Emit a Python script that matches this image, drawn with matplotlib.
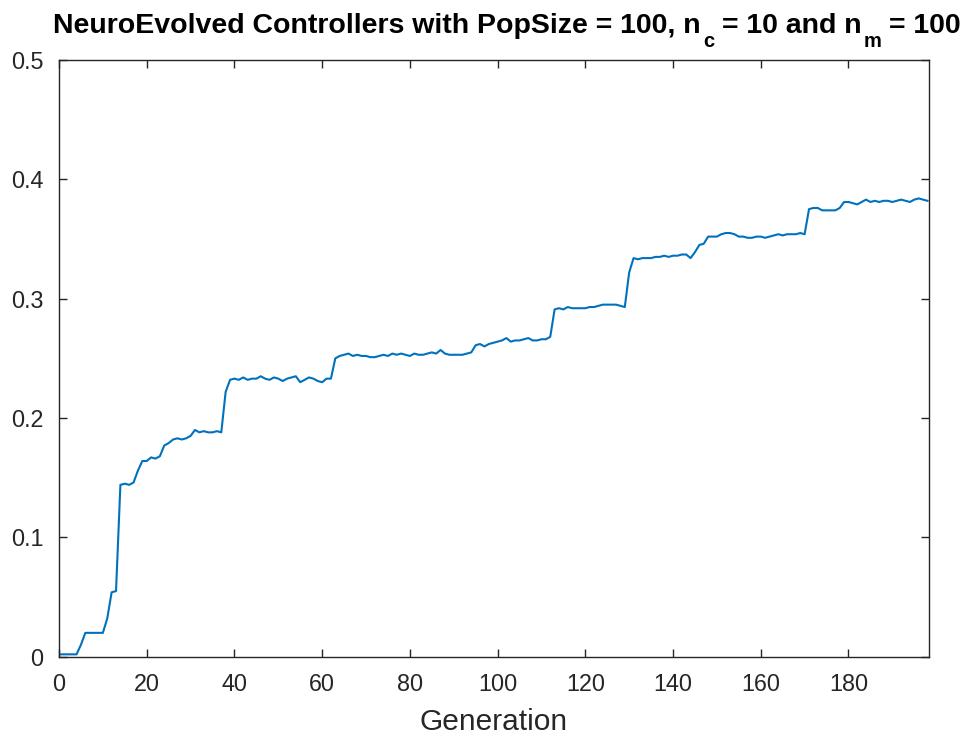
import numpy as np
import matplotlib
matplotlib.use('Agg')
import matplotlib.pyplot as plt

plt.rcParams['font.family'] = ['Liberation Sans', 'DejaVu Sans']

# Best fitness per generation
fitness = [
    0.002, 0.002, 0.002, 0.002, 0.002, 0.010, 0.020, 0.020, 0.020, 0.020,
    0.020, 0.032, 0.054, 0.055, 0.144, 0.145, 0.144, 0.146, 0.156, 0.164,
    0.164, 0.167, 0.166, 0.168, 0.177, 0.179, 0.182, 0.183, 0.182, 0.183,
    0.185, 0.190, 0.188, 0.189, 0.188, 0.188, 0.189, 0.188, 0.222, 0.232,
    0.233, 0.232, 0.234, 0.232, 0.233, 0.233, 0.235, 0.233, 0.232, 0.234,
    0.233, 0.231, 0.233, 0.234, 0.235, 0.230, 0.232, 0.234, 0.233, 0.231,
    0.230, 0.233, 0.233, 0.250, 0.252, 0.253, 0.254, 0.252, 0.253, 0.252,
    0.252, 0.251, 0.251, 0.252, 0.253, 0.252, 0.254, 0.253, 0.254, 0.253,
    0.252, 0.254, 0.253, 0.253, 0.254, 0.255, 0.254, 0.257, 0.254, 0.253,
    0.253, 0.253, 0.253, 0.254, 0.255, 0.261, 0.262, 0.260, 0.262, 0.263,
    0.264, 0.265, 0.267, 0.264, 0.265, 0.265, 0.266, 0.267, 0.265, 0.265,
    0.266, 0.266, 0.268, 0.291, 0.292, 0.291, 0.293, 0.292, 0.292, 0.292,
    0.292, 0.293, 0.293, 0.294, 0.295, 0.295, 0.295, 0.295, 0.294, 0.293,
    0.322, 0.334, 0.333, 0.334, 0.334, 0.334, 0.335, 0.335, 0.336, 0.335,
    0.336, 0.336, 0.337, 0.337, 0.334, 0.339, 0.345, 0.346, 0.352, 0.352,
    0.352, 0.354, 0.355, 0.355, 0.354, 0.352, 0.352, 0.351, 0.351, 0.352,
    0.352, 0.351, 0.352, 0.353, 0.354, 0.353, 0.354, 0.354, 0.354, 0.355,
    0.354, 0.375, 0.376, 0.376, 0.374, 0.374, 0.374, 0.374, 0.376, 0.381,
    0.381, 0.380, 0.379, 0.381, 0.383, 0.381, 0.382, 0.381, 0.382, 0.382,
    0.381, 0.382, 0.383, 0.382, 0.381, 0.383, 0.384, 0.383, 0.382,
]
generations = np.arange(len(fitness))

xticks = [0, 20, 40, 60, 80, 100, 120, 140, 160, 180]
yticks = [0, 0.1, 0.2, 0.3, 0.4, 0.5]
ytick_labels = ['0', '0.1', '0.2', '0.3', '0.4', '0.5']

# title pieces: (text, is_subscript, space_before)
title_parts = [
    ('NeuroEvolved Controllers with PopSize = 100, n', False, False),
    ('c', True, False),
    ('= 10 and n', False, True),
    ('m', True, False),
    ('= 100', False, True),
]

axis_color = '#262626'

fig = plt.figure(figsize=(9.8, 7.44), dpi=100)
ax = fig.add_axes([0.0602, 0.1173, 0.8875, 0.8021])
ax.plot(generations, fitness, color='#0072BD', lw=1.5)

ax.set_xlim(0, 198.3)
ax.set_ylim(0, 0.5)
ax.set_xticks(xticks)
ax.set_yticks(yticks)
ax.set_yticklabels(ytick_labels)
ax.tick_params(direction='in', length=6, width=1.0, colors=axis_color,
               labelsize=16.8, top=True, right=True, labeltop=False,
               labelright=False, pad=11)
ax.tick_params(axis='x', pad=12)
for spine in ax.spines.values():
    spine.set_color(axis_color)
    spine.set_linewidth(1.0)

ax.set_xlabel('Generation', fontsize=21.5, color=axis_color, labelpad=8)

# title built from pieces so the subscripts sit low like TeX-style labels
renderer = fig.canvas.get_renderer()
main_size = 20.5
sub_size = 14.5
baseline = 1 - 33 / 744
sub_drop = 14 / 744
probe_a = fig.text(0, 0, 'n n', fontsize=main_size, fontweight='bold')
probe_b = fig.text(0, 0, 'nn', fontsize=main_size, fontweight='bold')
space_w = (probe_a.get_window_extent(renderer).width
           - probe_b.get_window_extent(renderer).width) / fig.bbox.width
probe_a.remove()
probe_b.remove()

pieces = []
for txt, is_sub, space in title_parts:
    t = fig.text(0, baseline - (sub_drop if is_sub else 0), txt,
                 fontsize=sub_size if is_sub else main_size,
                 fontweight='bold', color='black', ha='left', va='baseline')
    pieces.append((t, space, is_sub))

widths = []
total = 0
for t, space, is_sub in pieces:
    w = t.get_window_extent(renderer).width / fig.bbox.width
    gap = space_w if space else (2 / 980 if is_sub else 0)
    widths.append((w, gap))
    total += w + gap

x = 507 / 980 - total / 2
for (t, space, is_sub), (w, gap) in zip(pieces, widths):
    x += gap
    t.set_x(x)
    x += w

fig.savefig('out.png', dpi=100)
